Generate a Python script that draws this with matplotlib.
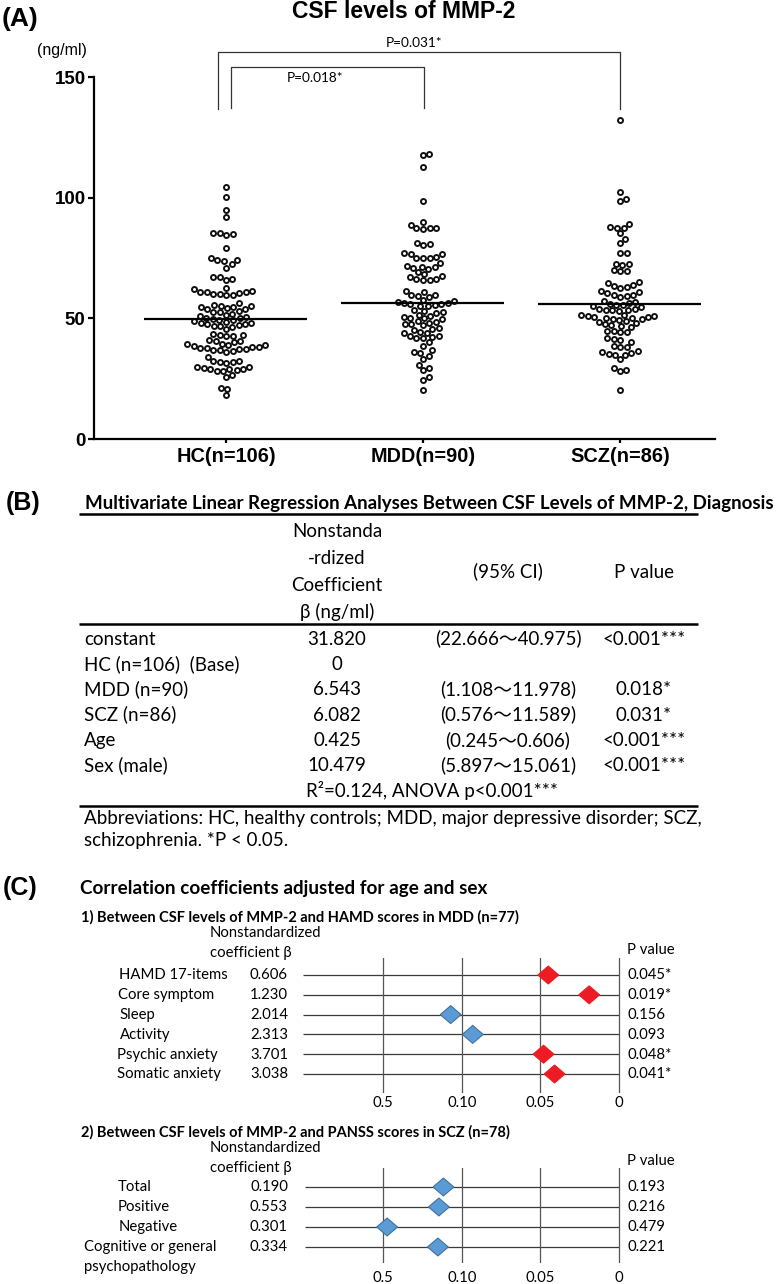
import numpy as np
import matplotlib
matplotlib.use('Agg')
import matplotlib.pyplot as plt
from matplotlib.transforms import blended_transform_factory, offset_copy

plt.rcParams['font.family'] = ['Lato', 'DejaVu Sans']

# ---- (A) CSF levels of MMP-2 (ng/ml) ----
groups = ['HC(n=106)', 'MDD(n=90)', 'SCZ(n=86)']
hc = [104.5, 100.4, 95.0, 92.1,
      85.5, 85.2, 84.6, 85.0,
      79.3,
      75.0, 74.2, 73.6, 74.0, 72.5, 71.0,
      67.0, 66.5, 66.0, 67.0,
      62.5, 62.0, 61.0, 61.5, 60.5, 60.0, 59.8, 60.2, 60.8, 59.5, 61.0,
      56.5, 55.5, 55.0, 54.8, 55.2, 54.2, 54.0, 53.8, 54.5, 53.0, 52.5, 52.8,
      52.0, 51.5, 51.0, 50.5, 50.2, 50.0, 49.8, 49.5, 49.2, 49.0, 48.5, 48.0,
      47.8, 47.5, 47.0, 46.5, 46.8, 47.2, 48.2, 45.5,
      43.5, 43.0, 42.8, 43.2, 42.5,
      41.0, 40.8, 40.5, 40.0, 39.5, 39.2, 39.0, 38.8, 38.5, 38.0, 37.8, 37.5,
      37.2, 37.0, 36.8, 36.5, 36.2, 37.6, 38.2,
      33.8,
      32.2, 32.0, 31.8, 31.5, 32.5,
      30.0, 29.8, 29.5, 29.0, 28.8, 28.5, 28.2, 28.0, 29.2,
      26.5, 25.5,
      21.2, 20.8,
      18.1]
mdd = [118.3, 117.6, 112.8, 98.7,
       90.0, 88.6, 87.3, 87.0, 87.3, 87.6,
       81.0, 80.5, 81.3,
       77.0, 76.5, 76.8, 75.5, 75.0, 74.8, 75.2,
       72.8, 71.5, 71.2, 71.4, 71.0, 70.6,
       69.0, 68.5, 67.6, 67.2, 66.5, 66.2, 65.8, 66.0,
       61.2, 60.8, 59.5, 59.3, 59.0, 59.6,
       57.5, 57.0, 56.8, 56.5, 56.0, 55.8, 55.5, 55.2, 55.0, 56.2,
       53.5, 53.0, 52.5, 52.2, 51.5, 51.0, 50.5, 50.2, 50.0, 49.8,
       48.8, 48.5, 48.0, 47.5, 47.3, 47.8,
       46.0, 45.5, 45.0, 44.5, 44.0, 43.8,
       42.5, 42.2, 42.0, 42.8, 41.8,
       40.0, 38.5, 36.8, 36.0, 35.5, 34.5, 33.0, 30.7, 29.4, 28.4,
       25.5, 24.5, 20.4]
scz = [132.1,
       102.4, 99.5, 98.8,
       89.1, 87.6, 87.4, 87.8, 85.2, 83.0,
       81.1, 76.9, 77.1,
       72.4, 72.6, 72.2, 69.8, 70.0, 69.6,
       65.0, 64.5, 63.8, 63.2, 62.8, 62.5,
       61.2, 60.8, 60.3, 59.8, 59.5, 59.2, 59.0,
       57.2, 56.8, 56.4, 56.0, 55.7, 55.4, 55.1, 54.8,
       53.8, 53.5, 53.3, 53.6, 53.2, 53.9,
       51.4, 51.2, 50.9, 50.6, 50.4, 50.1, 49.9, 49.7, 49.5, 51.0, 50.3,
       48.7, 48.3, 48.0, 47.6, 47.2, 46.9, 46.6,
       44.8, 44.5, 44.2, 44.6,
       42.0, 41.5, 41.0, 40.4,
       38.3, 38.5, 38.1,
       36.3, 36.0, 35.6, 35.3, 35.0, 34.9,
       33.1,
       29.4, 28.7, 28.0,
       20.4]
group_lines = [49.7, 56.3, 55.9]
p_labels_a = ['P=0.018*', 'P=0.031*']

# ---- (B) regression table ----
b_title = 'Multivariate Linear Regression Analyses Between CSF Levels of MMP-2, Diagnosis'
b_head = ['Nonstanda', '-rdized', 'Coefficient', 'β (ng/ml)']
b_rows = ['constant', 'HC (n=106)  (Base)', 'MDD (n=90)', 'SCZ (n=86)', 'Age', 'Sex (male)']
b_coef = ['31.820', '0', '6.543', '6.082', '0.425', '10.479']
b_ci = ['(22.666～40.975)', '', '(1.108〜11.978)', '(0.576～11.589)',
        '(0.245～0.606)', '(5.897～15.061)']
b_p = ['<0.001***', '', '0.018*', '0.031*', '<0.001***', '<0.001***']
b_fit = 'R²=0.124, ANOVA p<0.001***'
b_note = ['Abbreviations: HC, healthy controls; MDD, major depressive disorder; SCZ,',
          'schizophrenia. *P < 0.05.']

# ---- (C) correlations adjusted for age and sex ----
hamd_items = ['HAMD 17-items', 'Core symptom', 'Sleep', 'Activity',
              'Psychic anxiety', 'Somatic anxiety']
hamd_beta = ['0.606', '1.230', '2.014', '2.313', '3.701', '3.038']
hamd_p = [0.045, 0.019, 0.156, 0.093, 0.048, 0.041]
panss_items = ['Total', 'Positive', 'Negative', 'Cognitive or general\npsychopathology']
panss_beta = ['0.190', '0.553', '0.301', '0.334']
panss_p = [0.193, 0.216, 0.479, 0.221]
p_ticks = [0.5, 0.10, 0.05, 0]
p_tick_labels = ['0.5', '0.10', '0.05', '0']

W, H = 780, 1284
fig = plt.figure(figsize=(W / 100, H / 100), dpi=100)


def px_axes(x0, y0, x1, y1):
    return fig.add_axes([x0 / W, 1 - y1 / H, (x1 - x0) / W, (y1 - y0) / H])


ov = fig.add_axes([0, 0, 1, 1])
ov.set_xlim(0, W)
ov.set_ylim(H, 0)
ov.axis('off')

ARIAL = 'Liberation Sans'
CJK = ['Lato', 'Noto Sans CJK JP', 'DejaVu Sans']


def put(x, y, s, size, tr=None, **kw):
    # place text so that the middle of its letters sits on y (baseline based)
    tr = ov.transData if tr is None else tr
    t = offset_copy(tr, fig=fig, y=-0.3 * size, units='points')
    ov.text(x, y, s, transform=t, va='baseline', fontsize=size, **kw)


def swarm(vals, d, ppu):
    # simple beeswarm in pixel units, returns x offsets in pixels
    ys = np.asarray(vals) * ppu
    placed = []
    out = np.zeros(len(ys))
    for i in np.argsort(ys):
        y = ys[i]
        cands = [0.0]
        for px, py in placed:
            dy = y - py
            if abs(dy) < d:
                dx = np.sqrt(d * d - dy * dy)
                cands += [px + dx, px - dx]
        cands.sort(key=abs)
        for c in cands:
            if all((c - px) ** 2 + (y - py) ** 2 >= d * d - 1e-6 for px, py in placed):
                break
        placed.append((c, y))
        out[i] = c
    return out


# ---------------- panel A ----------------
axA = px_axes(94, 77, 715, 439)
axA.set_facecolor('none')
axA.set_ylim(0, 150)
axA.set_xlim(-0.670, 2.482)
ppu_y = (439 - 77) / 150
ppu_x = (715 - 94) / (2.482 + 0.670)

for i, vals in enumerate([hc, mdd, scz]):
    off = swarm(vals, 6.6, ppu_y) / ppu_x
    axA.scatter(i + off, vals, s=13, facecolors='white', edgecolors='#111111',
                linewidths=1.4, zorder=3, clip_on=False)
    axA.hlines(group_lines[i], i - 0.415, i + 0.41, color='black', lw=1.6, zorder=4)

# significance brackets
for (xa, xb), top, base, lab, tx, ty in [((0.025, 1.005), 154.1, 137.2, p_labels_a[0], 0.452, 149.6),
                                         ((-0.04, 2.0), 160.4, 136.7, p_labels_a[1], 0.954, 164.1)]:
    axA.plot([xa, xa, xb, xb], [base, top, top, base], color='#333333', lw=0.9, clip_on=False)
    axA.text(tx, ty, lab, ha='center', va='center', fontsize=9.8, clip_on=False)

for s in ['top', 'right']:
    axA.spines[s].set_visible(False)
for s in ['left', 'bottom']:
    axA.spines[s].set_linewidth(1.6)
axA.set_yticks([0, 50, 100, 150])
axA.set_yticklabels(['0', '50', '100', '150'], fontfamily=ARIAL, fontweight='bold', fontsize=13.5)
axA.set_xticks([0, 1, 2])
axA.set_xticklabels(groups, fontfamily=ARIAL, fontweight='bold', fontsize=14.3)
axA.tick_params(axis='y', length=4, width=1.6, pad=2)
axA.tick_params(axis='x', length=3, width=1.6, pad=3)

ov.text(2, 19, '(A)', ha='left', va='center', fontfamily=ARIAL, fontweight='bold', fontsize=19)
ov.text(404, 12, 'CSF levels of MMP-2', ha='center', va='center', fontfamily=ARIAL,
        fontweight='bold', fontsize=16.5)
ov.text(37, 51, '(ng/ml)', ha='left', va='center', fontfamily=ARIAL, fontsize=11.5)

# ---------------- panel B ----------------
TS = 13.5
ov.text(6, 503, '(B)', ha='left', va='center', fontfamily=ARIAL, fontweight='bold', fontsize=18)
put(85, 503, b_title, 13.5, ha='left', fontweight='bold')
ov.hlines([514, 624, 806], 79, 698, color='black', lw=1.8)
for k, line in enumerate(b_head):
    put(337, 531 + 27 * k, line, TS, ha='center')
put(508, 572, '(95% CI)', TS, ha='center')
put(644, 572, 'P value', TS, ha='center')
for k in range(len(b_rows)):
    y = 639 + 25.3 * k
    put(84, y, b_rows[k], TS, ha='left')
    put(337, y, b_coef[k], TS, ha='center')
    put(508, y, b_ci[k], TS, ha='center', family=CJK)
    put(644, y, b_p[k], TS, ha='center')
put(432, 791, b_fit, TS, ha='center')
for k, line in enumerate(b_note):
    put(84, 818 + 22 * k, line, TS, ha='left')

# ---------------- panel C ----------------
CS = 10.7
ov.text(3, 888, '(C)', ha='left', va='center', fontfamily=ARIAL, fontweight='bold', fontsize=18)
put(80, 888, 'Correlation coefficients adjusted for age and sex', 13.6, ha='left',
    fontweight='bold')

diamond = [(-1, 0), (0, 0.86), (1, 0), (0, -0.86), (-1, 0)]


def forest(box, rows_lim, subtitle, sub_y, head_y, pv_y, items, betas, pvals, label_x, pad):
    ax = px_axes(*box)
    ax.set_facecolor('none')
    ax.set_xlim((box[0] - 383) / 78.7, (box[2] - 383) / 78.7)
    ax.set_ylim(*rows_lim)
    rows = np.arange(len(items))
    pos = np.interp(-np.asarray(pvals), [-t for t in p_ticks], np.arange(len(p_ticks)))
    ax.hlines(rows, ax.get_xlim()[0], 3, color='#3a3a3a', lw=0.9)
    for t in range(len(p_ticks)):
        ax.axvline(t, color='#555555', lw=0.9)
    sig = np.asarray(pvals) < 0.05
    ax.scatter(pos, rows, marker=diamond, s=225,
               c=np.where(sig, '#ED1C24', '#5B9BD5'),
               edgecolors=np.where(sig, '#ED1C24', '#41719C'), linewidths=0.8, zorder=3)
    for s in ax.spines.values():
        s.set_visible(False)
    ax.set_yticks([])
    ax.set_xticks(range(len(p_ticks)))
    ax.set_xticklabels(p_tick_labels, fontsize=CS)
    ax.tick_params(axis='x', length=0, pad=pad)

    tr = blended_transform_factory(ov.transData, ax.transData)
    for k in rows:
        for j, part in enumerate(items[k].split('\n')):
            put(label_x[k], k + j, part, CS, tr=tr, ha='left')
        put(269, k, betas[k], CS, tr=tr, ha='center')
        put(627, k, f'{pvals[k]:.3f}' + ('*' if pvals[k] < 0.05 else ''), CS, tr=tr, ha='left')
    put(81, sub_y, subtitle, 10.5, ha='left', fontweight='bold')
    put(210, head_y, 'Nonstandardized', CS, ha='left')
    put(210, head_y + 20, 'coefficient β', CS, ha='left')
    put(627, pv_y, 'P value', CS, ha='left')


forest((303, 958, 622, 1093), (5.96, -0.86),
       '1) Between CSF levels of MMP-2 and HAMD scores in MDD (n=77)', 917, 933, 950,
       hamd_items, hamd_beta, hamd_p, [119, 118, 119, 120, 117, 117], 2.5)
forest((305, 1168, 622, 1263), (3.8, -0.95),
       '2) Between CSF levels of MMP-2 and PANSS scores in SCZ (n=78)', 1132, 1148, 1161,
       panss_items, panss_beta, panss_p, [118, 118, 119, 84], 6)

fig.savefig('out.png', dpi=100, facecolor='white')
